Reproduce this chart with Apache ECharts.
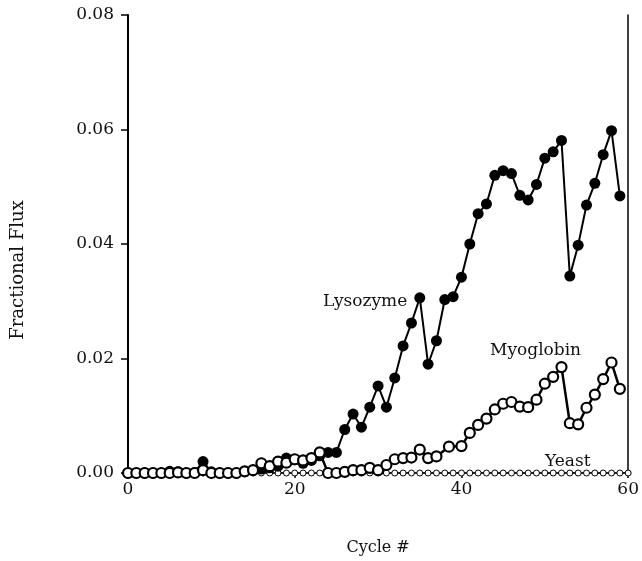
<!DOCTYPE html>
<html>
<head>
<meta charset="utf-8">
<script src="https://cdn.jsdelivr.net/npm/echarts@6/dist/echarts.min.js"></script>
<style>
  html, body { margin: 0; padding: 0; background: #fff; }
  #chart { width: 642px; height: 561px; }
</style>
</head>
<body>
<div id="chart"></div>
<script>
// cycle numbers and fractional flux
const lysozymeCycles = [
  0, 1, 2, 3, 4, 5, 6, 7, 8, 9, 10, 11, 12, 13, 14, 15, 16, 17, 18, 19,
  20, 21, 22, 23, 24, 25, 26, 27, 28, 29, 30, 31, 32, 33, 34, 35, 36, 37, 38, 39,
  40, 41, 42, 43, 44, 45, 46, 47, 48, 49, 50, 51, 52, 53, 54, 55, 56, 57, 58, 59
]
const lysozymeFlux = [
  0, 0, 0, 0, 0, 0.0003, 0.0002, 0, 0.0001, 0.002, 0.0002, 0, 0, 0, 0.0002, 0.0005, 0.0007, 0.0009, 0.0012, 0.0026,
  0.0023, 0.0017, 0.0022, 0.003, 0.0036, 0.0036, 0.0076, 0.0103, 0.008, 0.0115, 0.0152, 0.0115, 0.0166, 0.0222, 0.0262, 0.0306, 0.019, 0.0231, 0.0303, 0.0308,
  0.0342, 0.04, 0.0453, 0.047, 0.052, 0.0528, 0.0523, 0.0485, 0.0477, 0.0504, 0.055, 0.0561, 0.0581, 0.0344, 0.0398, 0.0468, 0.0506, 0.0556, 0.0598, 0.0484
]

const myoglobinCycles = [
  0, 1, 2, 3, 4, 5, 6, 7, 8, 9, 10, 11, 12, 13, 14, 15, 16, 17, 18, 19,
  20, 21, 22, 23, 24, 25, 26, 27, 28, 29, 30, 31, 32, 33, 34, 35, 36, 37, 38.5, 40,
  41, 42, 43, 44, 45, 46, 47, 48, 49, 50, 51, 52, 53, 54, 55, 56, 57, 58, 59
]
const myoglobinFlux = [
  0, 0, 0, 0, 0, 0, 0.0001, 0, 0, 0.0005, 0, 0, 0, 0, 0.0003, 0.0005, 0.0017, 0.0012, 0.002, 0.0018,
  0.0024, 0.0022, 0.0026, 0.0036, 0, 0, 0.0002, 0.0005, 0.0005, 0.0009, 0.0005, 0.0014, 0.0024, 0.0026, 0.0027, 0.0041, 0.0026, 0.0029, 0.0046, 0.0047,
  0.007, 0.0084, 0.0095, 0.0111, 0.0121, 0.0124, 0.0116, 0.0115, 0.0128, 0.0156, 0.0168, 0.0185, 0.0087, 0.0085, 0.0114, 0.0137, 0.0164, 0.0193, 0.0147
]

const yeastCycles = [
  0, 1, 2, 3, 4, 5, 6, 7, 8, 9, 10, 11, 12, 13, 14, 15, 16, 17, 18, 19, 20,
  21, 22, 23, 24, 25, 26, 27, 28, 29, 30, 31, 32, 33, 34, 35, 36, 37, 38, 39, 40,
  41, 42, 43, 44, 45, 46, 47, 48, 49, 50, 51, 52, 53, 54, 55, 56, 57, 58, 59, 60
]
const yeastFlux = [
  0, 0, 0, 0, 0, 0, 0, 0, 0, 0, 0, 0, 0, 0, 0, 0, 0, 0, 0, 0, 0,
  0, 0, 0, 0, 0, 0, 0, 0, 0, 0, 0, 0, 0, 0, 0, 0, 0, 0, 0, 0,
  0, 0, 0, 0, 0, 0, 0, 0, 0, 0, 0, 0, 0, 0, 0, 0, 0, 0, 0, 0
]

const xTicks = [0, 20, 40, 60]
const yTicks = [0, 0.02, 0.04, 0.06, 0.08]

const FONT = 'DejaVu Serif, serif'

function pairs(xs, ys) {
  return xs.map((x, i) => [x, ys[i]])
}

const chart = echarts.init(document.getElementById('chart'), null, { renderer: 'canvas' })

chart.setOption({
  animation: false,
  backgroundColor: '#fff',
  grid: { left: 128, right: 2, top: 15, bottom: 78, containLabel: false },
  xAxis: {
    type: 'value',
    min: xTicks[0],
    max: xTicks[xTicks.length - 1],
    interval: xTicks[1] - xTicks[0],
    name: 'Cycle #',
    nameLocation: 'middle',
    nameGap: 67,
    nameTextStyle: { color: '#111', fontFamily: FONT, fontSize: 16 },
    axisLine: { onZero: false, lineStyle: { color: '#000', width: 1.5 } },
    axisTick: { show: true, inside: false, length: 5, lineStyle: { color: '#000', width: 1.5 } },
    axisLabel: { color: '#111', fontFamily: FONT, fontSize: 17, margin: 8 },
    splitLine: { show: false },
  },
  yAxis: [
    {
      type: 'value',
      min: yTicks[0],
      max: yTicks[yTicks.length - 1],
      interval: yTicks[1] - yTicks[0],
      axisLine: { show: true, onZero: false, lineStyle: { color: '#000', width: 2 } },
      axisTick: { show: true, inside: false, length: 7, lineStyle: { color: '#000', width: 1.5 } },
      axisLabel: { color: '#111', fontFamily: FONT, fontSize: 17, margin: 14, formatter: (v) => v.toFixed(2) },
      splitLine: { show: false },
    },
    {
      type: 'value',
      position: 'right',
      min: yTicks[0],
      max: yTicks[yTicks.length - 1],
      interval: yTicks[1] - yTicks[0],
      axisLine: { show: true, onZero: false, lineStyle: { color: '#000', width: 1.5 } },
      axisTick: { show: false },
      axisLabel: { show: false },
      splitLine: { show: false },
    },
  ],
  series: [
    {
      name: 'Yeast',
      type: 'line',
      data: pairs(yeastCycles, yeastFlux),
      symbol: 'circle',
      symbolSize: 6,
      showAllSymbol: true,
      lineStyle: { color: '#000', width: 1 },
      itemStyle: { color: '#fff', borderColor: '#000', borderWidth: 1 },
      z: 2,
    },
    {
      name: 'Lysozyme',
      type: 'line',
      data: pairs(lysozymeCycles, lysozymeFlux),
      symbol: 'circle',
      symbolSize: 11,
      showAllSymbol: true,
      lineStyle: { color: '#000', width: 2 },
      itemStyle: { color: '#000', borderColor: '#000', borderWidth: 0 },
      z: 3,
    },
    {
      name: 'Myoglobin',
      type: 'line',
      data: pairs(myoglobinCycles, myoglobinFlux),
      symbol: 'circle',
      symbolSize: 10,
      showAllSymbol: true,
      lineStyle: { color: '#000', width: 2.5 },
      itemStyle: { color: '#fff', borderColor: '#000', borderWidth: 2.2 },
      z: 4,
    },
  ],
  graphic: [
    {
      type: 'text',
      x: 18,
      y: 270,
      rotation: Math.PI / 2,
      style: { text: 'Fractional Flux', fill: '#111', font: '18px DejaVu Serif, serif', align: 'center', verticalAlign: 'middle' },
    },
    { type: 'text', left: 323, top: 293, style: { text: 'Lysozyme', fill: '#111', font: '17px DejaVu Serif, serif' } },
    { type: 'text', left: 490, top: 342, style: { text: 'Myoglobin', fill: '#111', font: '17px DejaVu Serif, serif' } },
    { type: 'text', left: 545, top: 453, style: { text: 'Yeast', fill: '#111', font: '17px DejaVu Serif, serif' } },
  ],
})
</script>
</body>
</html>
